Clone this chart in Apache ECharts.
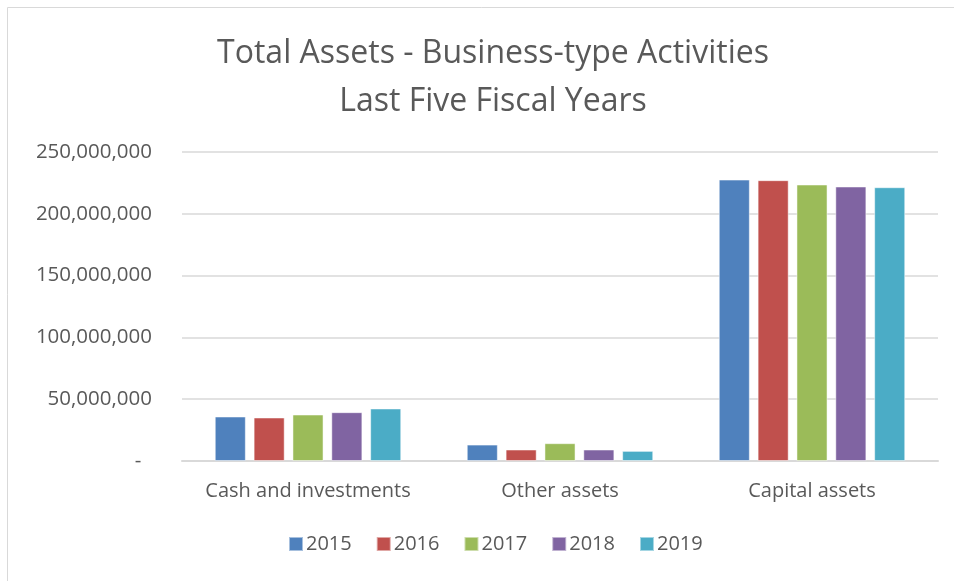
<!DOCTYPE html>
<html>
<head>
<meta charset="utf-8">
<script src="https://cdn.jsdelivr.net/npm/echarts@6/dist/echarts.min.js"></script>
<style>
  html, body { margin: 0; padding: 0; background: #fff; }
  #chart { width: 954px; height: 581px; }
</style>
</head>
<body>
<div id="chart"></div>
<script>
const categories = ['Cash and investments', 'Other assets', 'Capital assets']
const years = ['2015', '2016', '2017', '2018', '2019']
const values2015 = [36000000, 13300000, 227700000]
const values2016 = [35200000, 9300000, 227200000]
const values2017 = [37600000, 14400000, 223700000]
const values2018 = [39500000, 9300000, 222100000]
const values2019 = [42500000, 8200000, 221500000]
const seriesValues = [values2015, values2016, values2017, values2018, values2019]
const colors = ['#4F81BD', '#C0504D', '#9BBB59', '#8064A2', '#4BACC6']

const fontFamily = '"Open Sans", "Noto Sans", sans-serif'
const textColor = '#595959'

const myChart = echarts.init(document.getElementById('chart'))

myChart.setOption({
  animation: false,
  color: colors,
  graphic: [
    {
      type: 'rect',
      shape: { x: 7.5, y: 7.5, width: 960, height: 600 },
      style: { fill: 'none', stroke: '#d9d9d9', lineWidth: 1 },
    },
  ],
  title: {
    text: 'Total Assets - Business-type Activities\nLast Five Fiscal Years',
    left: 488,
    top: 25,
    textAlign: 'center',
    textStyle: {
      color: textColor,
      fontFamily,
      fontSize: 32,
      fontWeight: 'normal',
      lineHeight: 48,
    },
  },
  legend: {
    bottom: 22,
    left: 283,
    itemWidth: 14,
    itemHeight: 14,
    itemGap: 24,
    icon: 'rect',
    textStyle: { color: textColor, fontFamily, fontSize: 20, padding: [0, 0, 0, -2] },
    data: years,
  },
  grid: {
    left: 182,
    right: 16,
    top: 152,
    bottom: 120,
    containLabel: false,
  },
  xAxis: {
    type: 'category',
    data: categories,
    axisLine: { show: true, lineStyle: { color: '#d9d9d9', width: 2 } },
    axisTick: { show: false },
    axisLabel: { color: textColor, fontFamily, fontSize: 20, margin: 20, interval: 0 },
  },
  yAxis: {
    type: 'value',
    min: 0,
    max: 250000000,
    interval: 50000000,
    axisLine: { show: false },
    axisTick: { show: false },
    splitLine: { lineStyle: { color: '#d9d9d9', width: 1.5 } },
    axisLabel: {
      color: textColor,
      fontFamily,
      fontSize: 20.5,
      margin: 30,
      formatter: (v) => (v === 0 ? '-  ' : v.toLocaleString('en-US')),
    },
  },
  series: years.map((name, i) => ({
    name,
    type: 'bar',
    data: seriesValues[i],
    barGap: '25%',
    barCategoryGap: '26%',
    itemStyle: { borderColor: 'rgba(255,255,255,0.5)', borderWidth: 1 },
  })),
})
</script>
</body>
</html>
